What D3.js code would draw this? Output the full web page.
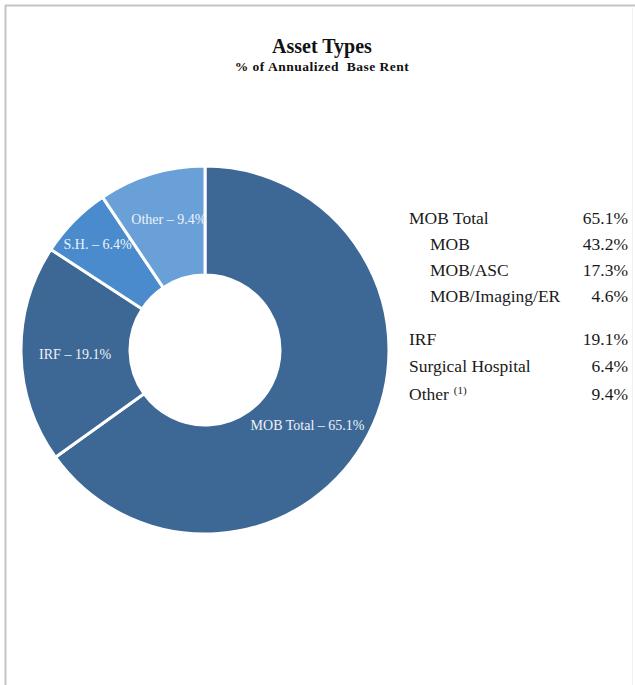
<!DOCTYPE html>
<html>
<head>
<meta charset="utf-8">
<script src="https://cdn.jsdelivr.net/npm/d3@7"></script>
<style>
  html, body { margin: 0; padding: 0; background: #fff; }
  svg { display: block; }
</style>
</head>
<body>
<svg id="chart" width="635" height="685"></svg>
<script>
// Donut slices, clockwise from 12 o'clock
const sliceNames  = ["MOB Total", "IRF", "S.H.", "Other"];
const sliceValues = [65.1, 19.1, 6.4, 9.4];
const sliceColors = ["#3d6896", "#3d6896", "#4a8bcd", "#6aa0d8"];

// Breakdown table on the right
const tableNames  = ["MOB Total", "MOB", "MOB/ASC", "MOB/Imaging/ER", "IRF", "Surgical Hospital", "Other"];
const tableValues = [65.1, 43.2, 17.3, 4.6, 19.1, 6.4, 9.4];
const tableIndent = [0, 1, 1, 1, 0, 0, 0];
const tableNotes  = ["", "", "", "", "", "", "(1)"];

const svg = d3.select("#chart");
const serif = "'Liberation Serif', 'Times New Roman', serif";

// frame
svg.append("line").attr("x1", 5).attr("y1", 5.5).attr("x2", 635).attr("y2", 5.5)
  .attr("stroke", "#c4c4c4").attr("stroke-width", 2);
svg.append("line").attr("x1", 5.5).attr("y1", 5).attr("x2", 5.5).attr("y2", 685)
  .attr("stroke", "#c4c4c4").attr("stroke-width", 2);
svg.append("line").attr("x1", 632.5).attr("y1", 6).attr("x2", 632.5).attr("y2", 685)
  .attr("stroke", "#f0f0f0").attr("stroke-width", 1);

// titles
svg.append("text").attr("x", 322).attr("y", 53).attr("text-anchor", "middle")
  .attr("font-family", serif).attr("font-weight", "bold").attr("font-size", 20)
  .attr("fill", "#111").text("Asset Types");
svg.append("text").attr("x", 322).attr("y", 71).attr("text-anchor", "middle")
  .attr("font-family", serif).attr("font-weight", "bold").attr("font-size", 13.5)
  .attr("letter-spacing", 0.5)
  .attr("fill", "#111").attr("xml:space", "preserve").text("% of Annualized  Base Rent");

// donut
const cx = 205, cy = 350, outerR = 184, innerR = 75;
const slices = sliceNames.map((n, i) => ({ name: n, value: sliceValues[i], color: sliceColors[i] }));
const pie = d3.pie().value(d => d.value).sort(null);
const arc = d3.arc().innerRadius(innerR).outerRadius(outerR);
const g = svg.append("g").attr("transform", `translate(${cx},${cy})`);
const arcs = pie(slices);

g.selectAll("path.slice").data(arcs).join("path")
  .attr("class", "slice")
  .attr("d", arc)
  .attr("fill", d => d.data.color)
  .attr("stroke", "#fff").attr("stroke-width", 3).attr("stroke-linejoin", "miter");

// label placement: radius and angular nudge (degrees) from slice middle
const labelPlace = {
  "MOB Total": [127, 9],
  "IRF":       [130, -0.5],
  "S.H.":      [151, 0],
  "Other":     [136, 1.5]
};
g.selectAll("text.lbl").data(arcs).join("text")
  .attr("class", "lbl")
  .attr("transform", d => {
    const [r, nudge] = labelPlace[d.data.name];
    const a = (d.startAngle + d.endAngle) / 2 + nudge * Math.PI / 180;
    return `translate(${Math.sin(a) * r},${-Math.cos(a) * r})`;
  })
  .attr("dy", "0.35em")
  .attr("text-anchor", "middle")
  .attr("font-family", serif).attr("font-size", 14)
  .attr("fill", "#eef3f8")
  .text(d => `${d.data.name} – ${d.data.value.toFixed(1)}%`);

// table
const rowY = [224, 250, 276, 302, 345, 372, 400];
const tg = svg.append("g").attr("font-family", serif).attr("font-size", 17.5).attr("fill", "#1a1a1a");
tableNames.forEach((n, i) => {
  const t = tg.append("text").attr("x", 409 + tableIndent[i] * 21).attr("y", rowY[i]).text(n);
  if (tableNotes[i]) {
    t.append("tspan").attr("dx", 5).attr("dy", -6).attr("font-size", 11).text(tableNotes[i]);
  }
  tg.append("text").attr("x", 628).attr("y", rowY[i]).attr("text-anchor", "end")
    .text(tableValues[i].toFixed(1) + "%");
});
</script>
</body>
</html>
